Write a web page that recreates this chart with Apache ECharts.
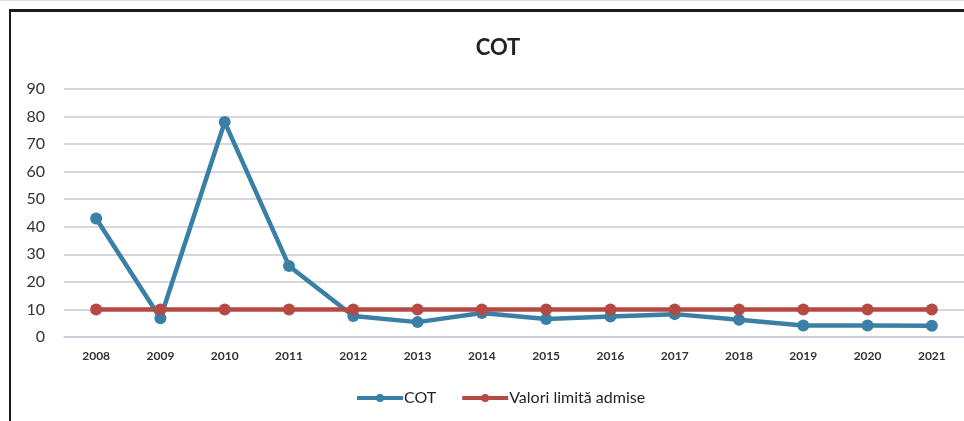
<!DOCTYPE html>
<html>
<head>
<meta charset="utf-8">
<script src="https://cdn.jsdelivr.net/npm/echarts@6/dist/echarts.min.js"></script>
<style>
html,body{margin:0;padding:0;background:#fff;}
#chart{position:absolute;left:0;top:0;width:964px;height:421px;}
#frame{position:absolute;left:9px;top:9px;width:955px;height:412px;border-top:3px solid #1a1a1a;border-left:2px solid #1a1a1a;pointer-events:none;}
#topline{position:absolute;left:0;top:0;width:964px;height:1px;background:#ddd;}
</style>
</head>
<body>
<div id="chart"></div>
<div id="frame"></div>
<div id="topline"></div>
<script>
const categories = ['2008','2009','2010','2011','2012','2013','2014','2015','2016','2017','2018','2019','2020','2021'];
const cotValues = [43, 6.8, 78, 25.8, 7.6, 5.4, 8.7, 6.5, 7.4, 8.3, 6.3, 4.2, 4.2, 4.1];
const limitValues = [10,10,10,10,10,10,10,10,10,10,10,10,10,10];
const yTicks = {min: 0, max: 90, interval: 10};
const seriesNames = ['COT', 'Valori limită admise'];
const titleText = 'COT';

const blue = '#3a7fa5', red = '#b54a44';
const chart = echarts.init(document.getElementById('chart'), null, {renderer:'canvas'});
const fontFam = 'Lato, "Open Sans", sans-serif';
chart.setOption({
  animation:false,
  backgroundColor:'#fff',
  title:{text:titleText,left:493,top:32,textAlign:'center',
    textStyle:{fontFamily:fontFam,fontSize:22,fontWeight:'bold',color:'#222'}},
  legend:{bottom:10,left:350,itemWidth:46,itemHeight:10,itemGap:24,
    textStyle:{fontFamily:fontFam,fontSize:16,color:'#222',padding:[0,0,0,-4]},
    data:[
      {name:seriesNames[0],lineStyle:{width:4,color:blue},itemStyle:{color:blue}},
      {name:seriesNames[1],lineStyle:{width:4,color:red},itemStyle:{color:red}}
    ]},
  grid:{left:64,right:0,top:89,bottom:84,containLabel:false},
  xAxis:{type:'category',data:categories,boundaryGap:true,
    axisLine:{show:true,lineStyle:{color:'#c9c9d8',width:1.5}},
    axisTick:{show:false},
    axisLabel:{margin:13,fontFamily:fontFam,fontSize:12,fontWeight:'bold',color:'#333'}},
  yAxis:{type:'value',min:yTicks.min,max:yTicks.max,interval:yTicks.interval,
    axisLine:{show:false},axisTick:{show:false},
    splitLine:{lineStyle:{color:'#c9c9d8',width:1.5}},
    axisLabel:{margin:19,fontFamily:fontFam,fontSize:16,color:'#333'}},
  series:[
    {name:seriesNames[0],type:'line',data:cotValues,symbol:'circle',symbolSize:12,
      lineStyle:{color:blue,width:4.5},itemStyle:{color:blue},z:2},
    {name:seriesNames[1],type:'line',data:limitValues,symbol:'circle',symbolSize:12,
      lineStyle:{color:red,width:4.5},itemStyle:{color:red},z:3}
  ]
});
</script>
</body>
</html>
